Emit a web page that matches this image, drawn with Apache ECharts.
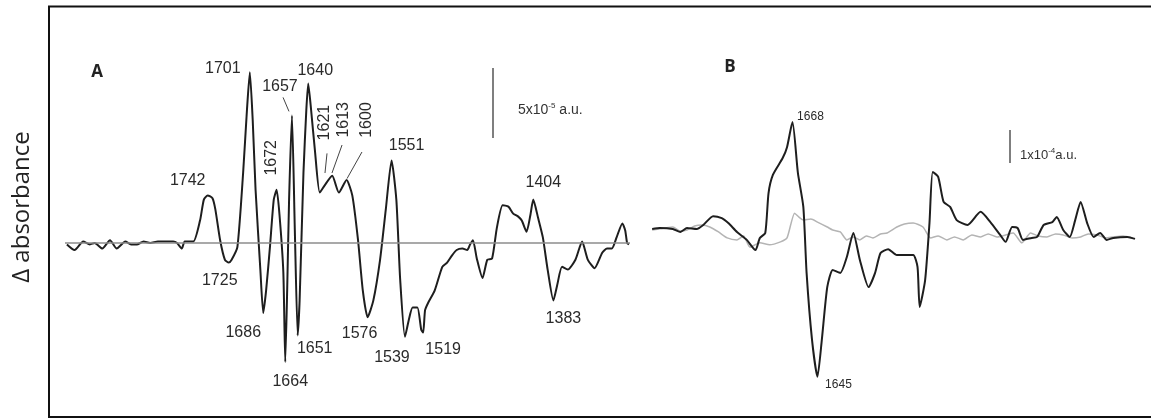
<!DOCTYPE html>
<html>
<head>
<meta charset="utf-8">
<script src="https://cdn.jsdelivr.net/npm/echarts@6/dist/echarts.min.js"></script>
<style>
html, body { margin: 0; padding: 0; background: #fff; }
#chart { width: 1151px; height: 419px; }
</style>
</head>
<body>
<div id="chart"></div>
<script>
// Panel A: difference spectrum, wavenumber (cm-1) vs absorbance (x10^-5 a.u.)
var waveA = [1888,1880,1871,1864,1859,1851,1843,1836,1827,1821,
    1815,1808,1801,1793,1784,1777,1773,1768,1765,1756,
    1749,1745,1741,1736,1733,1728,1723,1719,1716,1710,
    1704,1700,1697,1694,1691,1686,1683,1680,1676,1672,
    1669,1666,1662,1660,1658,1656,1653,1650,1647,1645,
    1641,1638,1636,1633,1629,1624,1619,1611,1604,1596,
    1590,1584,1579,1574,1568,1561,1555,1549,1544,1540,
    1535,1531,1527,1522,1518,1516,1514,1511,1504,1496,
    1491,1486,1481,1475,1470,1467,1464,1460,1454,1449,
    1444,1439,1433,1427,1422,1417,1413,1408,1404,1401,
    1396,1391,1386,1380,1376,1371,1365,1357,1350,1344,
    1337,1329,1324,1319,1314,1308,1305,1303,1301];
var absA = [-0.1,-0.5,0.1,-0.1,0,-0.4,0.2,-0.4,0.1,-0.1,
    -0.1,0.1,0,0.1,0.1,0.1,0,-0.4,0.1,0.1,
    1.6,3.1,3.4,3.2,2.4,0.2,-1.2,-1.4,-1.2,-0.3,
    5.0,9.5,12.2,8.8,3.8,-1.9,-5.0,-3.4,-0.3,3.1,
    3.8,2.0,-2.1,-8.5,-3.4,3.1,9.1,0.9,-6.6,-4.1,
    5.0,9.5,11.4,9.5,6.6,3.6,4.1,4.8,3.6,4.5,
    3.4,0.2,-3.4,-5.3,-4.1,-1.2,2.4,5.9,3.1,-2.6,
    -6.7,-5.5,-4.6,-4.6,-6.2,-6.4,-4.8,-4.3,-3.4,-1.7,
    -1.4,-0.9,-0.5,-0.4,-0.5,-0.1,0.2,-1.1,-2.5,-1.2,
    -1.1,1.1,2.7,2.6,2.1,1.9,1.6,0.8,2.0,3.1,
    1.8,0.4,-1.9,-4.1,-3.0,-1.7,-1.9,-1.2,0.1,-1.2,
    -1.8,-0.7,-0.4,-0.4,0.4,1.4,0.9,0,-0.1];

// peak labels of panel A and the data wavenumber they point at
var labelsA = ['1742','1725','1701','1686','1672','1664','1657','1651','1640',
    '1621','1613','1600','1576','1551','1539','1519','1404','1383'];
var labelAtA = [1741,1719,1697,1683,1669,1660,1653,1647,1636,
    1619,1611,1596,1574,1549,1535,1516,1401,1380];

// Panel B: dark trace
var waveB = [1798,1791,1779,1772,1766,1757,1751,1742,1734,1728,
    1720,1711,1703,1699,1694,1691,1687,1678,1674,1669,
    1664,1659,1656,1651,1646,1642,1637,1632,1625,1619,
    1613,1607,1599,1593,1588,1581,1573,1558,1554,1552,
    1547,1543,1540,1535,1530,1524,1518,1508,1496,1487,
    1478,1473,1467,1462,1457,1449,1444,1438,1430,1426,
    1420,1414,1409,1404,1398,1392,1386,1380,1374,1361,
    1354];
var absB = [0,0.3,0,-0.9,0.3,0,1.2,3.9,3.3,1.8,
    -0.9,-3.3,-6.4,-2.7,-1.2,10.9,16.4,21.5,24.8,32.4,
    17,6.7,-13.3,-33.6,-44.8,-33.6,-17.6,-12.4,-13.3,-8.5,
    -1.2,-9.4,-17.6,-13.3,-7.3,-6.1,-7.9,-7.9,-11.5,-23.6,
    -15.5,1.8,17.3,15.8,8.2,6.7,2.7,1.2,5.2,2.1,
    -1.8,-3.9,0.6,0.3,-3.3,-2.7,-2.4,1.2,2.1,3.6,
    -0.3,-2.4,2.7,8.2,1.8,-2.4,-1.2,-3.3,-2.7,-2.4,
    -3];
// Panel B: grey reference trace
var waveBRef = [1798,1786,1779,1772,1766,1759,1752,1745,1737,1729,
    1720,1714,1708,1699,1690,1680,1674,1667,1663,1659,
    1652,1646,1637,1632,1625,1619,1613,1607,1601,1595,
    1588,1582,1573,1566,1558,1549,1542,1535,1527,1520,
    1512,1504,1496,1489,1481,1473,1466,1458,1450,1443,
    1435,1427,1420,1412,1404,1397,1389,1381,1374,1365,
    1356];
var absBRef = [-0.3,0.3,0.6,-0.6,-0.3,0.9,1.2,0.6,-0.9,-2.7,
    -3.3,-2.1,-5.5,-4.2,-4.8,-3.9,-2.7,4.8,3.6,2.7,
    3.0,2.1,0.6,-0.3,-0.9,-3.3,-2.4,-3.3,-2.1,-2.7,
    -1.5,-1.2,0.6,1.5,1.8,0.6,-2.7,-2.1,-3.3,-2.4,
    -3.3,-1.8,-2.4,-1.5,-2.4,-1.8,-1.2,-4.2,-1.2,-2.1,
    -2.4,-1.5,-1.8,-2.7,-2.4,-1.5,-1.8,-2.7,-2.4,-2.1,
    -2.7];

var labelsB = ['1668','1645'];
var labelAtB = [1669,1646];

function pairs(xs, ys) {
    var out = [];
    for (var i = 0; i < xs.length; i++) {
        out.push([xs[i], ys[i]]);
    }
    return out;
}

function valueAt(xs, ys, w) {
    return ys[xs.indexOf(w)];
}

// label offsets (px) and rotation, same order as labelsA
// (offsets of rotated labels are given in the rotated frame)
var offsetA = [[-20,-15],[-9,18],[-27,-4],[-20,20],[32,-5],[5,20],[-12,-29],[17,13],[7,-13],
    [63,0],[56,11],[60,20],[-8,16],[15,-15],[-13,21],[20,17],[10,-17],[10,18]];
var rotA = [0,0,0,0,90,0,0,0,0,90,90,90,0,0,0,0,0,0];
var offsetB = [[18,-5],[21,8]];

var pointsA = [];
for (var i = 0; i < labelsA.length; i++) {
    pointsA.push({
        name: labelsA[i],
        coord: [labelAtA[i], valueAt(waveA, absA, labelAtA[i])],
        label: {offset: offsetA[i], rotate: rotA[i]}
    });
}
var pointsB = [];
for (var j = 0; j < labelsB.length; j++) {
    pointsB.push({
        name: labelsB[j],
        coord: [labelAtB[j], valueAt(waveB, absB, labelAtB[j])],
        label: {offset: offsetB[j]}
    });
}

var leaderStyle = {color: '#444', width: 1, type: 'solid'};
var barStyle = {color: '#555', width: 1.5, type: 'solid'};

var myChart = echarts.init(document.getElementById('chart'));
var option = {
    animation: false,
    backgroundColor: '#fff',
    grid: [
        {left: 65, width: 565, top: 40, height: 364},
        {left: 650, width: 485, top: 64, height: 330}
    ],
    xAxis: [
        {gridIndex: 0, type: 'value', min: 1300, max: 1890, inverse: true, show: false},
        {gridIndex: 1, type: 'value', min: 1354, max: 1800, inverse: true, show: false}
    ],
    yAxis: [
        {gridIndex: 0, type: 'value', min: -11.5, max: 14.5, show: false},
        {gridIndex: 1, type: 'value', min: -50, max: 50, show: false}
    ],
    series: [
        {
            name: 'A',
            type: 'line',
            xAxisIndex: 0,
            yAxisIndex: 0,
            data: pairs(waveA, absA),
            showSymbol: false,
            smooth: 0.2,
            z: 3,
            lineStyle: {color: '#1e1e1e', width: 2},
            markPoint: {
                symbol: 'circle',
                symbolSize: 1,
                itemStyle: {color: 'rgba(0,0,0,0)'},
                label: {
                    show: true,
                    formatter: '{b}',
                    color: '#2a2a2a',
                    fontFamily: 'Liberation Sans',
                    fontSize: 16
                },
                data: pointsA
            },
            markLine: {
                silent: true,
                symbol: ['none', 'none'],
                label: {show: false},
                data: [
                    {yAxis: 0, lineStyle: {color: '#8c8c8c', width: 1.5, type: 'solid'}},
                    // leader lines
                    [{coord: [1662.3, 10.4], lineStyle: leaderStyle}, {coord: [1656.1, 9.4]}],
                    [{coord: [1616.4, 6.4], lineStyle: leaderStyle}, {coord: [1618.5, 5.0]}],
                    [{coord: [1600.7, 7.0], lineStyle: leaderStyle}, {coord: [1611.2, 5.0]}],
                    [{coord: [1579.9, 6.5], lineStyle: leaderStyle}, {coord: [1595.5, 4.6]}],
                    // 5x10^-5 scale bar
                    [{coord: [1443, 12.5], lineStyle: barStyle}, {coord: [1443, 7.5]}]
                ]
            }
        },
        {
            name: 'B ref',
            type: 'line',
            xAxisIndex: 1,
            yAxisIndex: 1,
            data: pairs(waveBRef, absBRef),
            showSymbol: false,
            smooth: 0.2,
            z: 2,
            lineStyle: {color: '#b4b4b4', width: 1.5}
        },
        {
            name: 'B',
            type: 'line',
            xAxisIndex: 1,
            yAxisIndex: 1,
            data: pairs(waveB, absB),
            showSymbol: false,
            smooth: 0.2,
            z: 3,
            lineStyle: {color: '#1e1e1e', width: 2},
            markPoint: {
                symbol: 'circle',
                symbolSize: 1,
                itemStyle: {color: 'rgba(0,0,0,0)'},
                label: {
                    show: true,
                    formatter: '{b}',
                    color: '#2a2a2a',
                    fontFamily: 'Liberation Sans',
                    fontSize: 12
                },
                data: pointsB
            },
            markLine: {
                silent: true,
                symbol: ['none', 'none'],
                label: {show: false},
                data: [
                    // 1x10^-4 scale bar
                    [{coord: [1469, 30], lineStyle: barStyle}, {coord: [1469, 20]}]
                ]
            }
        }
    ],
    graphic: [
        {
            type: 'rect',
            shape: {x: 49, y: 6.5, width: 1120, height: 410.5},
            style: {fill: 'none', stroke: '#111', lineWidth: 2}
        },
        {
            type: 'text',
            x: 22, y: 207,
            rotation: Math.PI / 2,
            style: {
                text: 'Δ absorbance',
                font: '24px "Open Sans"',
                fill: '#222',
                textAlign: 'center',
                textVerticalAlign: 'middle'
            }
        },
        {
            type: 'text',
            x: 97, y: 72,
            style: {text: 'A', font: 'bold 17px "Open Sans"', fill: '#222',
                textAlign: 'center', textVerticalAlign: 'middle'}
        },
        {
            type: 'text',
            x: 730, y: 67,
            style: {text: 'B', font: 'bold 17px "Open Sans"', fill: '#222',
                textAlign: 'center', textVerticalAlign: 'middle'}
        },
        {
            type: 'text',
            x: 518, y: 110,
            style: {
                text: '{n|5x10}{s|-5}{n| a.u.}',
                textVerticalAlign: 'middle',
                rich: {
                    n: {font: '14px "Liberation Sans"', fill: '#333', lineHeight: 16},
                    s: {font: '8px "Liberation Sans"', fill: '#333', verticalAlign: 'top', lineHeight: 16}
                }
            }
        },
        {
            type: 'text',
            x: 1020, y: 155,
            style: {
                text: '{n|1x10}{s|-4}{n|a.u.}',
                textVerticalAlign: 'middle',
                rich: {
                    n: {font: '13px "Liberation Sans"', fill: '#333', lineHeight: 16},
                    s: {font: '8px "Liberation Sans"', fill: '#333', verticalAlign: 'top', lineHeight: 16}
                }
            }
        }
    ]
};
myChart.setOption(option);
</script>
</body>
</html>
